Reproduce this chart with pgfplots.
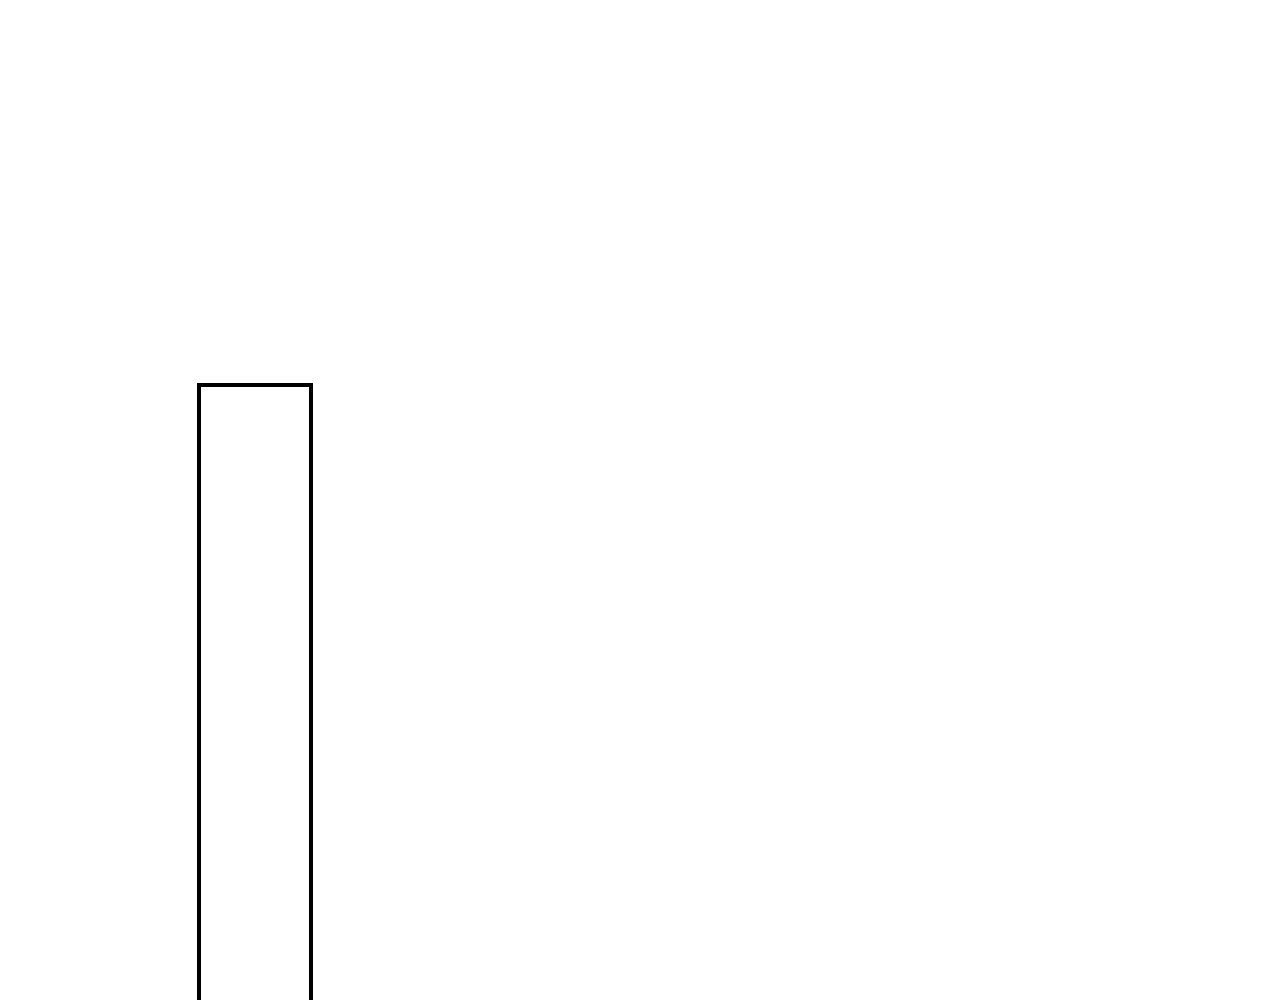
\documentclass[border=0pt]{standalone}
\usepackage{pgfplots}
\pgfplotsset{compat=1.18}
\begin{document}
\begin{tikzpicture}
\begin{axis}[
  scale only axis,
  width=12.8cm, height=10cm,
  xmin=0, xmax=1280, ymin=3, ymax=1003,
  hide axis,
  clip=true,
]
\addplot[draw=black, line width=1.2pt, line join=miter, mark=none] coordinates {(199,-30) (199,618) (311,618) (311,-30)};
\path (rel axis cs:0,0) rectangle (rel axis cs:1,1);
\end{axis}
\end{tikzpicture}
\end{document}
